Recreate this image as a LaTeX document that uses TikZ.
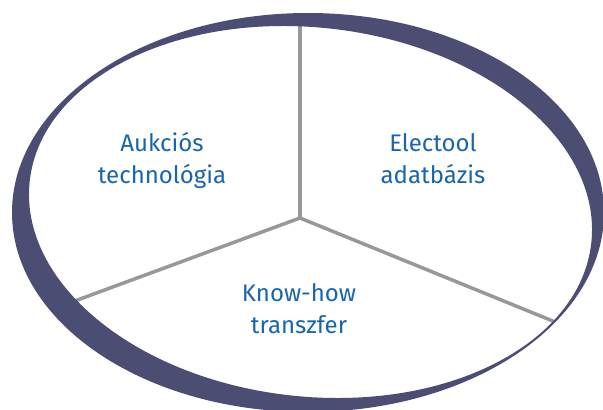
\documentclass[tikz,border=0pt]{standalone}
\usepackage{fontspec}
\setmainfont{Fira Sans}
\definecolor{ringcol}{RGB}{75,77,115}
\definecolor{txtcol}{RGB}{26,100,170}
\definecolor{linecol}{RGB}{152,152,152}
\begin{document}
\begin{tikzpicture}[x=1pt,y=-1pt,
  lbl/.style={text=txtcol,font=\fontsize{24}{32}\selectfont,align=center,inner sep=0pt},
  spoke/.style={draw=linecol,line width=3.5pt}]
\useasboundingbox (0,0) rectangle (603,410);
\clip (0,0) rectangle (603,410);
\coordinate (c) at (300,218);
\coordinate (t) at (300,22);
\coordinate (ll) at (72,302);
\coordinate (lr) at (554,321.5);
\draw[spoke] (c) -- (t);
\draw[spoke] (c) -- (ll);
\draw[spoke] (c) -- (lr);
\fill[ringcol,even odd rule] (308,212.5) ellipse [x radius=296, y radius=199.5]
  [rotate around={-6.3:(310.5,212)}] (310.5,212) ellipse [x radius=282.5, y radius=184.5];
\node[lbl,anchor=base] (a) at (162,183) {Aukciós\\technológia};
\node[lbl,anchor=base] (e) at (433,183) {Electool\\adatbázis};
\node[lbl,anchor=base] (k) at (299,333) {Know-how\\transzfer};
\end{tikzpicture}
\end{document}
